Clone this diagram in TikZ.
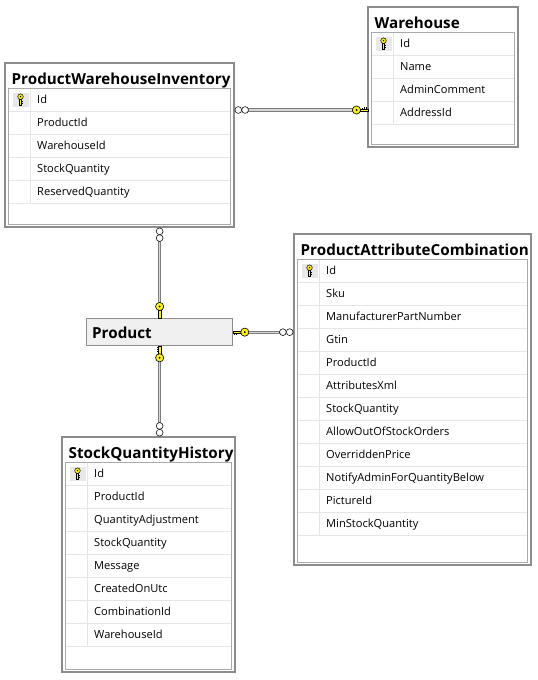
\documentclass[tikz,border=0pt]{standalone}
\usepackage{fontspec}
\setmainfont{Open Sans}
\definecolor{frame}{RGB}{140,140,140}
\definecolor{innerframe}{RGB}{170,170,170}
\definecolor{sepline}{RGB}{230,230,230}
\definecolor{keycell}{RGB}{232,232,232}
\definecolor{keyyellow}{RGB}{250,240,30}
\definecolor{relouter}{RGB}{125,125,125}
\definecolor{relinner}{RGB}{215,215,215}
\definecolor{prodfill}{RGB}{240,240,240}
\tikzset{
  outerbox/.style={draw=frame, line width=1.4pt, fill=white, inner sep=0pt, outer sep=0pt},
  innerbox/.style={draw=innerframe, line width=0.8pt, inner sep=0pt, outer sep=0pt},
  titletext/.style={font=\bfseries\fontsize{15.2}{17}\selectfont, inner sep=0pt},
  rowtext/.style={font=\fontsize{11.1}{13}\selectfont, inner sep=0pt},
  sep/.style={draw=sepline, line width=0.8pt},
  rel/.style={draw=relouter, line width=0.9pt, double=relinner, double distance=1.3pt, shorten <=12pt, shorten >=12pt},
  tkey/.pic={
    \draw[fill=keyyellow, line width=0.45pt] (-0.9,0) rectangle (0.9,5.8);
    \draw[line width=0.7pt] (0.9,2.6) -- (2.4,2.6) (0.9,4.6) -- (2.4,4.6);
    \draw[fill=keyyellow, line width=0.5pt] (0,-2.3) circle (2.8);
    \fill[black] (0,-2.3) circle (0.75);
  },
  relkey/.pic={
    \draw[fill=keyyellow, line width=0.45pt] (0,-1.1) rectangle (8,1.1);
    \draw[line width=0.7pt] (1.5,1.1) -- (1.5,2.8) (3.5,1.1) -- (3.5,2.8) (5.5,1.1) -- (5.5,2.3);
    \draw[fill=keyyellow, line width=0.6pt] (11.5,0) circle (4.1);
    \fill[black] (11.5,0) circle (1);
  },
  relmany/.pic={
    \draw[fill=white, line width=0.55pt] (4.3,0) circle (3.4);
    \draw[fill=white, line width=0.55pt] (11.1,0) circle (3.4);
  }
}
% #1 name, #2 x1, #3 y1, #4 x2, #5 y2, #6 title, #7 rows
\newcommand\dbtable[7]{%
  \node[outerbox, minimum width={#4-#2}, minimum height={#5-#3}, anchor=north west] (#1) at (#2,#3) {};
  \node[titletext, anchor=base west] (#1-title) at (#2+6.5,#3+21) {#6};
  \node[innerbox, minimum width={#4-#2-7}, minimum height={#5-#3-27.5}, anchor=north west] (#1-in) at (#2+3.5,#3+25) {};
  \fill[keycell] (#2+3.5+4.5,#3+25+4.5) rectangle (#2+3.5+20.5,#3+25+19);
  \foreach \r [count=\i] in {#7} {
    \draw[sep] (#2+4,#3+25+23*\i) -- (#4-4,#3+25+23*\i);
    \draw[sep] (#2+3.5+22,#3+25.5+23*\i-23) -- (#2+3.5+22,#3+25+23*\i);
    \node[rowtext, anchor=base west] (#1-r\i) at (#2+3.5+28.5,#3+25+23*\i-7.5) {\r};
  }
  \pic at (#2+3.5+12,#3+25+11) {tkey};
}
\begin{document}
\begin{tikzpicture}[x=1pt,y=-1pt]
\useasboundingbox[fill=white] (0,0) rectangle (538,680);

\dbtable{pwi}{5}{63}{234}{227}{ProductWarehouseInventory}{Id,ProductId,WarehouseId,StockQuantity,ReservedQuantity}
\dbtable{wh}{368}{7}{518}{147}{Warehouse}{Id,Name,AdminComment,AddressId}
\dbtable{pac}{294}{234}{531}{565}{ProductAttributeCombination}{Id,Sku,ManufacturerPartNumber,Gtin,ProductId,AttributesXml,StockQuantity,AllowOutOfStockOrders,OverriddenPrice,NotifyAdminForQuantityBelow,PictureId,MinStockQuantity}
\dbtable{sqh}{62}{437}{235}{672}{StockQuantityHistory}{Id,ProductId,QuantityAdjustment,StockQuantity,Message,CreatedOnUtc,CombinationId,WarehouseId}

\node[draw=frame, line width=1.3pt, fill=prodfill, minimum width=146, minimum height=27, anchor=north west, inner sep=0pt] (prod) at (86,318) {};
\node[titletext, anchor=base west] (prod-title) at (92,338) {Product};

% connectors
\draw[rel] (pwi.east |- 0,110) -- (wh.west |- 0,110);
\draw[rel] (pwi.south -| prod.north) -- (prod.north);
\draw[rel] (prod.east) -- (pac.west |- prod.east);
\draw[rel] (prod.south) -- (sqh.north -| prod.south);

\pic at (pwi.east |- 0,110) {relmany};
\pic[rotate=180] at (wh.west |- 0,110) {relkey};
\pic[rotate=-90] at (pwi.south -| prod.north) {relmany};
\pic[rotate=90] at (prod.north) {relkey};
\pic at (prod.east) {relkey};
\pic[rotate=180] at (pac.west |- prod.east) {relmany};
\pic[rotate=-90] at (prod.south) {relkey};
\pic[rotate=90] at (sqh.north -| prod.south) {relmany};
\end{tikzpicture}
\end{document}
